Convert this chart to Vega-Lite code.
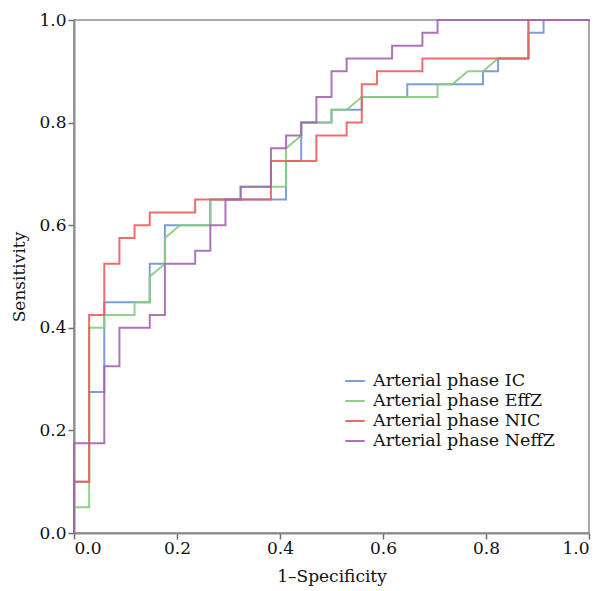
{
  "$schema": "https://vega.github.io/schema/vega-lite/v6.json",
  "width": 515,
  "height": 513,
  "autosize": {"type": "none"},
  "padding": {"left": 74, "top": 20, "right": 10, "bottom": 58},
  "background": "white",
  "config": {
    "view": {"stroke": "#8c8c8c", "strokeWidth": 1.5},
    "font": "DejaVu Serif"
  },
  "data": {"values": [
    {"s":"Arterial phase IC","i":0,"x":0,"y":0},
    {"s":"Arterial phase IC","i":1,"x":0,"y":0.1},
    {"s":"Arterial phase IC","i":2,"x":0.0294,"y":0.1},
    {"s":"Arterial phase IC","i":3,"x":0.0294,"y":0.275},
    {"s":"Arterial phase IC","i":4,"x":0.0588,"y":0.275},
    {"s":"Arterial phase IC","i":5,"x":0.0588,"y":0.45},
    {"s":"Arterial phase IC","i":6,"x":0.1471,"y":0.45},
    {"s":"Arterial phase IC","i":7,"x":0.1471,"y":0.525},
    {"s":"Arterial phase IC","i":8,"x":0.1765,"y":0.525},
    {"s":"Arterial phase IC","i":9,"x":0.1765,"y":0.6},
    {"s":"Arterial phase IC","i":10,"x":0.2647,"y":0.6},
    {"s":"Arterial phase IC","i":11,"x":0.2647,"y":0.65},
    {"s":"Arterial phase IC","i":12,"x":0.4118,"y":0.65},
    {"s":"Arterial phase IC","i":13,"x":0.4118,"y":0.725},
    {"s":"Arterial phase IC","i":14,"x":0.4412,"y":0.725},
    {"s":"Arterial phase IC","i":15,"x":0.4412,"y":0.8},
    {"s":"Arterial phase IC","i":16,"x":0.5,"y":0.8},
    {"s":"Arterial phase IC","i":17,"x":0.5,"y":0.825},
    {"s":"Arterial phase IC","i":18,"x":0.5588,"y":0.825},
    {"s":"Arterial phase IC","i":19,"x":0.5588,"y":0.85},
    {"s":"Arterial phase IC","i":20,"x":0.6471,"y":0.85},
    {"s":"Arterial phase IC","i":21,"x":0.6471,"y":0.875},
    {"s":"Arterial phase IC","i":22,"x":0.7941,"y":0.875},
    {"s":"Arterial phase IC","i":23,"x":0.7941,"y":0.9},
    {"s":"Arterial phase IC","i":24,"x":0.8235,"y":0.9},
    {"s":"Arterial phase IC","i":25,"x":0.8235,"y":0.925},
    {"s":"Arterial phase IC","i":26,"x":0.8824,"y":0.925},
    {"s":"Arterial phase IC","i":27,"x":0.8824,"y":0.975},
    {"s":"Arterial phase IC","i":28,"x":0.9118,"y":0.975},
    {"s":"Arterial phase IC","i":29,"x":0.9118,"y":1},
    {"s":"Arterial phase IC","i":30,"x":1,"y":1},

    {"s":"Arterial phase EffZ","i":0,"x":0,"y":0},
    {"s":"Arterial phase EffZ","i":1,"x":0,"y":0.05},
    {"s":"Arterial phase EffZ","i":2,"x":0.0294,"y":0.05},
    {"s":"Arterial phase EffZ","i":3,"x":0.0294,"y":0.4},
    {"s":"Arterial phase EffZ","i":4,"x":0.0588,"y":0.4},
    {"s":"Arterial phase EffZ","i":5,"x":0.0588,"y":0.425},
    {"s":"Arterial phase EffZ","i":6,"x":0.1176,"y":0.425},
    {"s":"Arterial phase EffZ","i":7,"x":0.1176,"y":0.45},
    {"s":"Arterial phase EffZ","i":8,"x":0.1471,"y":0.45},
    {"s":"Arterial phase EffZ","i":9,"x":0.1471,"y":0.5},
    {"s":"Arterial phase EffZ","i":10,"x":0.1765,"y":0.525},
    {"s":"Arterial phase EffZ","i":11,"x":0.1765,"y":0.575},
    {"s":"Arterial phase EffZ","i":12,"x":0.2059,"y":0.6},
    {"s":"Arterial phase EffZ","i":13,"x":0.2647,"y":0.6},
    {"s":"Arterial phase EffZ","i":14,"x":0.2647,"y":0.65},
    {"s":"Arterial phase EffZ","i":15,"x":0.3235,"y":0.65},
    {"s":"Arterial phase EffZ","i":16,"x":0.3235,"y":0.675},
    {"s":"Arterial phase EffZ","i":17,"x":0.4118,"y":0.675},
    {"s":"Arterial phase EffZ","i":18,"x":0.4118,"y":0.75},
    {"s":"Arterial phase EffZ","i":19,"x":0.4412,"y":0.775},
    {"s":"Arterial phase EffZ","i":20,"x":0.4412,"y":0.8},
    {"s":"Arterial phase EffZ","i":21,"x":0.5,"y":0.8},
    {"s":"Arterial phase EffZ","i":22,"x":0.5,"y":0.825},
    {"s":"Arterial phase EffZ","i":23,"x":0.5294,"y":0.825},
    {"s":"Arterial phase EffZ","i":24,"x":0.5588,"y":0.85},
    {"s":"Arterial phase EffZ","i":25,"x":0.7059,"y":0.85},
    {"s":"Arterial phase EffZ","i":26,"x":0.7059,"y":0.875},
    {"s":"Arterial phase EffZ","i":27,"x":0.7353,"y":0.875},
    {"s":"Arterial phase EffZ","i":28,"x":0.7647,"y":0.9},
    {"s":"Arterial phase EffZ","i":29,"x":0.7941,"y":0.9},
    {"s":"Arterial phase EffZ","i":30,"x":0.8235,"y":0.925},
    {"s":"Arterial phase EffZ","i":31,"x":0.8824,"y":0.925},
    {"s":"Arterial phase EffZ","i":32,"x":0.8824,"y":1},
    {"s":"Arterial phase EffZ","i":33,"x":1,"y":1},

    {"s":"Arterial phase NIC","i":0,"x":0,"y":0},
    {"s":"Arterial phase NIC","i":1,"x":0,"y":0.1},
    {"s":"Arterial phase NIC","i":2,"x":0.0294,"y":0.1},
    {"s":"Arterial phase NIC","i":3,"x":0.0294,"y":0.425},
    {"s":"Arterial phase NIC","i":4,"x":0.0588,"y":0.425},
    {"s":"Arterial phase NIC","i":5,"x":0.0588,"y":0.525},
    {"s":"Arterial phase NIC","i":6,"x":0.0882,"y":0.525},
    {"s":"Arterial phase NIC","i":7,"x":0.0882,"y":0.575},
    {"s":"Arterial phase NIC","i":8,"x":0.1176,"y":0.575},
    {"s":"Arterial phase NIC","i":9,"x":0.1176,"y":0.6},
    {"s":"Arterial phase NIC","i":10,"x":0.1471,"y":0.6},
    {"s":"Arterial phase NIC","i":11,"x":0.1471,"y":0.625},
    {"s":"Arterial phase NIC","i":12,"x":0.2353,"y":0.625},
    {"s":"Arterial phase NIC","i":13,"x":0.2353,"y":0.65},
    {"s":"Arterial phase NIC","i":14,"x":0.3824,"y":0.65},
    {"s":"Arterial phase NIC","i":15,"x":0.3824,"y":0.725},
    {"s":"Arterial phase NIC","i":16,"x":0.4706,"y":0.725},
    {"s":"Arterial phase NIC","i":17,"x":0.4706,"y":0.775},
    {"s":"Arterial phase NIC","i":18,"x":0.5294,"y":0.775},
    {"s":"Arterial phase NIC","i":19,"x":0.5294,"y":0.8},
    {"s":"Arterial phase NIC","i":20,"x":0.5588,"y":0.8},
    {"s":"Arterial phase NIC","i":21,"x":0.5588,"y":0.875},
    {"s":"Arterial phase NIC","i":22,"x":0.5882,"y":0.875},
    {"s":"Arterial phase NIC","i":23,"x":0.5882,"y":0.9},
    {"s":"Arterial phase NIC","i":24,"x":0.6765,"y":0.9},
    {"s":"Arterial phase NIC","i":25,"x":0.6765,"y":0.925},
    {"s":"Arterial phase NIC","i":26,"x":0.8824,"y":0.925},
    {"s":"Arterial phase NIC","i":27,"x":0.8824,"y":1},
    {"s":"Arterial phase NIC","i":28,"x":1,"y":1},

    {"s":"Arterial phase NeffZ","i":0,"x":0,"y":0},
    {"s":"Arterial phase NeffZ","i":1,"x":0,"y":0.175},
    {"s":"Arterial phase NeffZ","i":2,"x":0.0588,"y":0.175},
    {"s":"Arterial phase NeffZ","i":3,"x":0.0588,"y":0.325},
    {"s":"Arterial phase NeffZ","i":4,"x":0.0882,"y":0.325},
    {"s":"Arterial phase NeffZ","i":5,"x":0.0882,"y":0.4},
    {"s":"Arterial phase NeffZ","i":6,"x":0.1471,"y":0.4},
    {"s":"Arterial phase NeffZ","i":7,"x":0.1471,"y":0.425},
    {"s":"Arterial phase NeffZ","i":8,"x":0.1765,"y":0.425},
    {"s":"Arterial phase NeffZ","i":9,"x":0.1765,"y":0.525},
    {"s":"Arterial phase NeffZ","i":10,"x":0.2353,"y":0.525},
    {"s":"Arterial phase NeffZ","i":11,"x":0.2353,"y":0.55},
    {"s":"Arterial phase NeffZ","i":12,"x":0.2647,"y":0.55},
    {"s":"Arterial phase NeffZ","i":13,"x":0.2647,"y":0.6},
    {"s":"Arterial phase NeffZ","i":14,"x":0.2941,"y":0.6},
    {"s":"Arterial phase NeffZ","i":15,"x":0.2941,"y":0.65},
    {"s":"Arterial phase NeffZ","i":16,"x":0.3235,"y":0.65},
    {"s":"Arterial phase NeffZ","i":17,"x":0.3235,"y":0.675},
    {"s":"Arterial phase NeffZ","i":18,"x":0.3824,"y":0.675},
    {"s":"Arterial phase NeffZ","i":19,"x":0.3824,"y":0.75},
    {"s":"Arterial phase NeffZ","i":20,"x":0.4118,"y":0.75},
    {"s":"Arterial phase NeffZ","i":21,"x":0.4118,"y":0.775},
    {"s":"Arterial phase NeffZ","i":22,"x":0.4412,"y":0.775},
    {"s":"Arterial phase NeffZ","i":23,"x":0.4412,"y":0.8},
    {"s":"Arterial phase NeffZ","i":24,"x":0.4706,"y":0.8},
    {"s":"Arterial phase NeffZ","i":25,"x":0.4706,"y":0.85},
    {"s":"Arterial phase NeffZ","i":26,"x":0.5,"y":0.85},
    {"s":"Arterial phase NeffZ","i":27,"x":0.5,"y":0.9},
    {"s":"Arterial phase NeffZ","i":28,"x":0.5294,"y":0.9},
    {"s":"Arterial phase NeffZ","i":29,"x":0.5294,"y":0.925},
    {"s":"Arterial phase NeffZ","i":30,"x":0.6176,"y":0.925},
    {"s":"Arterial phase NeffZ","i":31,"x":0.6176,"y":0.95},
    {"s":"Arterial phase NeffZ","i":32,"x":0.6765,"y":0.95},
    {"s":"Arterial phase NeffZ","i":33,"x":0.6765,"y":0.975},
    {"s":"Arterial phase NeffZ","i":34,"x":0.7059,"y":0.975},
    {"s":"Arterial phase NeffZ","i":35,"x":0.7059,"y":1},
    {"s":"Arterial phase NeffZ","i":36,"x":1,"y":1}
  ]},
  "mark": {"type": "line", "strokeWidth": 2, "opacity": 0.9, "strokeCap": "square", "strokeJoin": "miter"},
  "encoding": {
    "x": {
      "field": "x", "type": "quantitative",
      "scale": {"domain": [0, 1], "nice": false, "zero": false},
      "axis": {
        "title": "1–Specificity", "values": [0, 0.2, 0.4, 0.6, 0.8, 1], "format": ".1f",
        "grid": false, "domainColor": "#8c8c8c", "domainWidth": 2,
        "tickColor": "#6e6e6e", "tickSize": 6, "tickWidth": 1.5,
        "labelFont": "DejaVu Serif", "labelFontSize": 17, "labelColor": "#111", "labelPadding": 1,
        "titleFont": "DejaVu Serif", "titleFontSize": 17, "titleFontWeight": "normal", "titleColor": "#111", "titlePadding": 12
      }
    },
    "y": {
      "field": "y", "type": "quantitative",
      "scale": {"domain": [0, 1], "nice": false, "zero": false},
      "axis": {
        "title": "Sensitivity", "values": [0, 0.2, 0.4, 0.6, 0.8, 1], "format": ".1f",
        "grid": false, "domainColor": "#8c8c8c", "domainWidth": 2,
        "tickColor": "#6e6e6e", "tickSize": 6, "tickWidth": 1.5,
        "labelFont": "DejaVu Serif", "labelFontSize": 17, "labelColor": "#111", "labelPadding": 2,
        "titleFont": "DejaVu Serif", "titleFontSize": 17, "titleFontWeight": "normal", "titleColor": "#111", "titlePadding": 10
      }
    },
    "color": {
      "field": "s", "type": "nominal",
      "scale": {
        "domain": ["Arterial phase IC", "Arterial phase EffZ", "Arterial phase NIC", "Arterial phase NeffZ"],
        "range": ["#6f93d4", "#86cc7e", "#ee5c5c", "#a464b4"]
      },
      "legend": {
        "title": null, "orient": "none", "legendX": 270, "legendY": 350,
        "symbolType": "stroke", "symbolSize": 380, "symbolStrokeWidth": 2,
        "labelFont": "DejaVu Serif", "labelFontSize": 17.5, "labelColor": "#111", "labelLimit": 300,
        "labelOffset": 7, "rowPadding": -3, "padding": 0
      }
    },
    "order": {"field": "i", "type": "quantitative"}
  }
}
